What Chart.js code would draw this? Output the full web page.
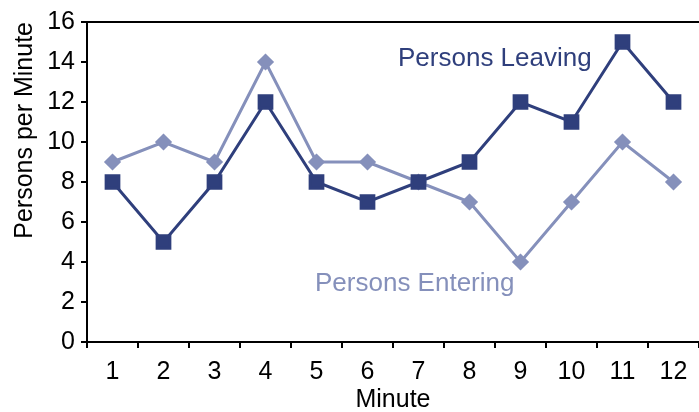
<!DOCTYPE html>
<html>
<head>
<meta charset="utf-8">
<script src="https://cdn.jsdelivr.net/npm/chart.js@4"></script>
<style>
  html, body { margin: 0; padding: 0; background: #fff; }
</style>
</head>
<body>
<canvas id="flowChart" width="699" height="412"></canvas>
<script>
const minutes = ["1", "2", "3", "4", "5", "6", "7", "8", "9", "10", "11", "12"];
const leaving = [8, 5, 8, 12, 8, 7, 8, 9, 12, 11, 15, 12];
const entering = [9, 10, 9, 14, 9, 9, 8, 7, 4, 7, 10, 8];

const darkBlue = "#2f3f7c";
const lightBlue = "#8590bb";
const font = "'Liberation Sans', Arial, sans-serif";

// top frame line + the two series labels inside the plot
const extras = {
  id: "extras",
  afterDraw(chart) {
    const c = chart.ctx;
    const a = chart.chartArea;
    c.save();
    c.strokeStyle = "#000";
    c.lineWidth = 2;
    c.beginPath();
    c.moveTo(a.left, a.top);
    c.lineTo(a.right, a.top);
    c.stroke();

    c.font = "26px " + font;
    c.textAlign = "left";
    c.textBaseline = "alphabetic";
    c.fillStyle = darkBlue;
    c.fillText("Persons Leaving", 398, 66);
    c.fillStyle = lightBlue;
    c.fillText("Persons Entering", 315, 291);
    c.restore();
  }
};

new Chart(document.getElementById("flowChart").getContext("2d"), {
  type: "line",
  data: {
    labels: minutes,
    datasets: [
      {
        label: "Persons Leaving",
        data: leaving,
        borderColor: darkBlue,
        backgroundColor: darkBlue,
        borderWidth: 3,
        pointStyle: "rect",
        pointRadius: 9,
        pointHoverRadius: 9,
        tension: 0
      },
      {
        label: "Persons Entering",
        data: entering,
        borderColor: lightBlue,
        backgroundColor: lightBlue,
        borderWidth: 3,
        pointStyle: "rectRot",
        pointRadius: 6.5,
        pointHoverRadius: 6.5,
        tension: 0
      }
    ]
  },
  options: {
    responsive: false,
    animation: false,
    layout: { autoPadding: false, padding: { top: 22, right: 0, left: 0, bottom: 0 } },
    plugins: {
      legend: { display: false },
      tooltip: { enabled: false }
    },
    scales: {
      x: {
        offset: true,
        afterFit(scale) { scale.height = 70; },
        grid: {
          offset: true,
          drawOnChartArea: false,
          drawTicks: true,
          tickLength: 6,
          color: "#000",
          lineWidth: 2
        },
        border: { color: "#000", width: 2 },
        ticks: {
          color: "#000",
          font: { family: font, size: 25 },
          padding: 9,
          maxRotation: 0
        },
        title: {
          display: true,
          text: "Minute",
          color: "#000",
          font: { family: font, size: 25 },
          padding: { top: 0, bottom: -3 }
        }
      },
      y: {
        min: 0,
        max: 16,
        afterFit(scale) { scale.width = 87; },
        grid: {
          drawOnChartArea: false,
          drawTicks: true,
          tickLength: 6,
          color: "#000",
          lineWidth: 2
        },
        border: { color: "#000", width: 2 },
        ticks: {
          stepSize: 2,
          color: "#000",
          font: { family: font, size: 25 },
          padding: 6
        },
        title: {
          display: true,
          text: "Persons per Minute",
          align: "end",
          color: "#000",
          font: { family: font, size: 25 },
          padding: { top: 10, bottom: 0 }
        }
      }
    }
  },
  plugins: [extras]
});
</script>
</body>
</html>
